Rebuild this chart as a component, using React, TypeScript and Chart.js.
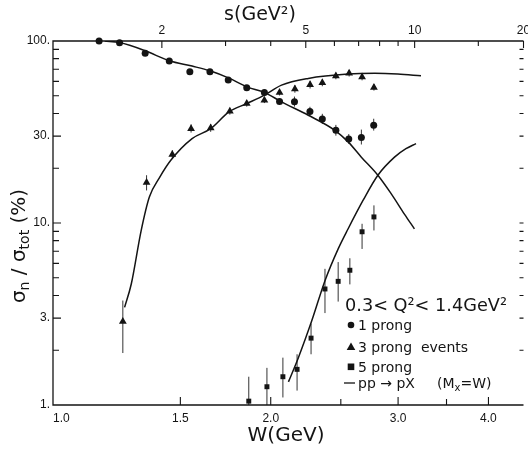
import React, { useEffect, useRef } from "react";
import { Chart, registerables } from "chart.js";
Chart.register(...registerables);

// ---------------- data ----------------
// 1 prong (circles)
const oneProngW = [1.158, 1.236, 1.341, 1.448, 1.546, 1.648, 1.747, 1.853, 1.96, 2.057, 2.157, 2.266, 2.357, 2.461, 2.564, 2.669, 2.776];
const oneProngV = [100, 97.9, 85.6, 77.6, 67.7, 67.7, 61.0, 55.3, 52.2, 46.5, 46.3, 41.0, 37.3, 32.3, 28.9, 29.5, 34.4];
const oneProngLo = [100, 96, 83.5, 75.5, 65.8, 65.8, 59.2, 53.6, 50.6, 44.8, 43.6, 38.8, 35.0, 30.2, 27.2, 27.0, 32.2];
const oneProngHi = [100, 99.5, 87.8, 79.8, 69.7, 69.7, 62.8, 57.0, 53.8, 48.3, 49.5, 43.5, 39.8, 34.6, 30.8, 32.6, 37.4];

// 3 prong events (triangles)
const threeProngW = [1.249, 1.347, 1.462, 1.552, 1.652, 1.756, 1.853, 1.96, 2.057, 2.16, 2.267, 2.357, 2.461, 2.567, 2.675, 2.778];
const threeProngV = [2.88, 16.7, 23.8, 33.0, 33.3, 41.1, 45.3, 47.3, 52.2, 54.5, 57.5, 58.9, 64.2, 66.4, 63.4, 55.6];
const threeProngLo = [1.93, 15.1, 22.6, 31.4, 31.7, 39.4, 43.6, 45.6, 50.2, 52.0, 54.8, 56.4, 61.6, 63.8, 60.8, 53.4];
const threeProngHi = [3.75, 18.3, 25.1, 34.8, 35.0, 42.9, 47.1, 49.1, 54.3, 57.2, 60.4, 61.6, 66.9, 69.2, 66.2, 58.0];

// 5 prong (squares)
const fiveProngW = [1.865, 1.976, 2.079, 2.175, 2.274, 2.377, 2.479, 2.573, 2.675, 2.778];
const fiveProngV = [1.05, 1.26, 1.43, 1.57, 2.33, 4.34, 4.78, 5.5, 8.95, 10.8];
const fiveProngLo = [1.0, 1.0, 1.1, 1.2, 1.9, 3.2, 3.7, 4.6, 7.2, 9.1];
const fiveProngHi = [1.43, 1.6, 1.82, 1.9, 2.8, 5.6, 6.1, 6.4, 9.9, 12.5];

// pp -> pX (Mx = W) curves
const ppOneW = [1.179, 1.236, 1.341, 1.448, 1.557, 1.648, 1.751, 1.853, 1.96, 2.07, 2.254, 2.453, 2.559, 2.669, 2.813, 2.934, 3.061, 3.16];
const ppOneV = [100, 98, 88.4, 77.9, 72.8, 68.6, 62.5, 56.0, 52.2, 46.3, 39.1, 32.3, 27.9, 23.0, 18.3, 14.5, 11.2, 9.29];
const ppThreeW = [1.256, 1.283, 1.324, 1.359, 1.403, 1.455, 1.557, 1.652, 1.751, 1.853, 1.96, 2.07, 2.254, 2.559, 2.786, 2.997, 3.227];
const ppThreeV = [3.44, 4.62, 9.09, 13.9, 17.7, 22.1, 29.1, 33.0, 40.8, 45.3, 50.4, 57.2, 62.3, 65.8, 66.4, 65.8, 64.4];
const ppFiveW = [2.116, 2.184, 2.279, 2.377, 2.479, 2.559, 2.683, 2.813, 2.966, 3.076, 3.176];
const ppFiveV = [1.34, 1.82, 2.9, 4.82, 7.21, 9.3, 13.3, 18.3, 23.0, 25.6, 27.3];

// axes
const W_MIN = 1.0;
const S_MAX = 20;
const Y_MIN = 1;
const Y_MAX = 100;
const xLabelValues = [1.0, 1.5, 2.0, 3.0, 4.0];
const xLabelTexts = ["1.0", "1.5", "2.0", "3.0", "4.0"];
const xTickValues = [1.5, 2.0, 2.5, 3.0, 3.5, 4.0];
const sLabelValues = [2, 5, 10, 20];
const sLabelTexts = ["2", "5", "10", "20"];
const sTickValues = [2, 3, 4, 5, 6, 7, 8, 9, 10, 15, 20];
const yLabelValues = [1, 3, 10, 30, 100];
const yLabelTexts = ["1.", "3.", "10.", "30.", "100."];
const yTickValues = [2, 3, 4, 5, 6, 7, 8, 9, 10, 20, 30, 40, 50, 60, 70, 80, 90];

const INK = "#141414";
const SANS = '"DejaVu Sans", sans-serif';
const TICKFONT = '"Liberation Sans", Arial, sans-serif';

const errorSets = [
  { w: oneProngW, lo: oneProngLo, hi: oneProngHi },
  { w: threeProngW, lo: threeProngLo, hi: threeProngHi },
  { w: fiveProngW, lo: fiveProngLo, hi: fiveProngHi },
];

const paperPlugin = {
  id: "paper",
  beforeDatasetsDraw(chart: any) {
    const { ctx } = chart;
    const x = chart.scales.x;
    const y = chart.scales.y;
    ctx.save();
    ctx.strokeStyle = "#333";
    ctx.lineWidth = 1;
    errorSets.forEach((set) => {
      set.w.forEach((w, i) => {
        const px = x.getPixelForValue(w);
        const y1 = y.getPixelForValue(set.lo[i]);
        const y2 = y.getPixelForValue(set.hi[i]);
        if (Math.abs(y1 - y2) < 1) return;
        ctx.beginPath();
        ctx.moveTo(px, y1);
        ctx.lineTo(px, y2);
        ctx.stroke();
      });
    });
    ctx.restore();
  },
  afterDraw(chart: any) {
    const { ctx } = chart;
    const { left, right, top, bottom } = chart.chartArea;
    const x = chart.scales.x;
    const x2 = chart.scales.x2;
    const y = chart.scales.y;
    ctx.save();
    ctx.strokeStyle = INK;
    ctx.fillStyle = INK;
    ctx.lineWidth = 1.3;
    // frame
    ctx.beginPath();
    ctx.moveTo(right, top);
    ctx.lineTo(left, top);
    ctx.lineTo(left, bottom);
    ctx.lineTo(right, bottom);
    ctx.stroke();

    ctx.lineWidth = 1.1;
    // bottom ticks
    xTickValues.forEach((v) => {
      const px = x.getPixelForValue(v);
      const len = xLabelValues.includes(v) ? 8 : 6;
      ctx.beginPath();
      ctx.moveTo(px, bottom);
      ctx.lineTo(px, bottom - len);
      ctx.stroke();
    });
    // top ticks
    sTickValues.forEach((v) => {
      const px = x2.getPixelForValue(v);
      const len = sLabelValues.includes(v) ? 7 : 5;
      ctx.beginPath();
      ctx.moveTo(px, top);
      ctx.lineTo(px, top + len);
      ctx.stroke();
    });
    // left + right ticks
    yTickValues.forEach((v) => {
      const py = y.getPixelForValue(v);
      const len = yLabelValues.includes(v) ? 8 : 6;
      ctx.beginPath();
      ctx.moveTo(left, py);
      ctx.lineTo(left + len, py);
      ctx.moveTo(right, py);
      ctx.lineTo(right - 4, py);
      ctx.stroke();
    });

    // tick labels
    ctx.font = `12px ${TICKFONT}`;
    ctx.textBaseline = "middle";
    xLabelValues.forEach((v, i) => {
      const px = x.getPixelForValue(v);
      ctx.textAlign = v === W_MIN ? "left" : "center";
      ctx.fillText(xLabelTexts[i], px, bottom + 14);
    });
    sLabelValues.forEach((v, i) => {
      const px = x2.getPixelForValue(v);
      ctx.textAlign = "center";
      ctx.fillText(sLabelTexts[i], px, top - 10);
    });
    ctx.textAlign = "right";
    yLabelValues.forEach((v, i) => {
      const py = y.getPixelForValue(v);
      ctx.fillText(yLabelTexts[i], left - 3, py);
    });

    // axis titles
    ctx.textBaseline = "alphabetic";
    ctx.textAlign = "center";
    ctx.font = `20px ${SANS}`;
    ctx.fillText("W(GeV)", 286, 441);
    ctx.font = `19px ${SANS}`;
    ctx.fillText("s(GeV²)", 260, 20);

    // y title with subscripts (rotated)
    ctx.save();
    ctx.translate(25, 246);
    ctx.rotate(-Math.PI / 2);
    const parts = [
      { t: "σ", s: 20, dy: 0 },
      { t: "n", s: 14, dy: 4 },
      { t: " / ", s: 20, dy: 0 },
      { t: "σ", s: 20, dy: 0 },
      { t: "tot", s: 14, dy: 4 },
      { t: " (%)", s: 20, dy: 0 },
    ];
    let total = 0;
    parts.forEach((p) => {
      ctx.font = `${p.s}px ${SANS}`;
      total += ctx.measureText(p.t).width;
    });
    let cx = -total / 2;
    ctx.textAlign = "left";
    parts.forEach((p) => {
      ctx.font = `${p.s}px ${SANS}`;
      ctx.fillText(p.t, cx, p.dy);
      cx += ctx.measureText(p.t).width;
    });
    ctx.restore();

    // legend block
    ctx.textAlign = "left";
    ctx.font = `18px ${SANS}`;
    ctx.fillText("0.3< Q²< 1.4GeV²", 345, 311, 162);
    ctx.font = `14px ${SANS}`;
    const mx = 351;
    const tx = 358;
    // circle
    ctx.beginPath();
    ctx.arc(mx, 325, 3.3, 0, Math.PI * 2);
    ctx.fill();
    ctx.fillText("1 prong", tx, 330);
    // triangle
    ctx.beginPath();
    ctx.moveTo(mx, 342.5);
    ctx.lineTo(mx + 4.3, 350);
    ctx.lineTo(mx - 4.3, 350);
    ctx.closePath();
    ctx.fill();
    ctx.fillText("3 prong  events", tx, 352);
    // square
    ctx.fillRect(mx - 3.3, 363.5, 6.6, 6.6);
    ctx.fillText("5 prong", tx, 372);
    // line
    ctx.lineWidth = 1.3;
    ctx.beginPath();
    ctx.moveTo(344, 383);
    ctx.lineTo(355, 383);
    ctx.stroke();
    ctx.fillText("pp → pX", tx, 388);
    ctx.fillText("(M", 437, 388);
    let w0 = 437 + ctx.measureText("(M").width;
    ctx.font = `10px ${SANS}`;
    ctx.fillText("x", w0, 391);
    w0 += ctx.measureText("x").width;
    ctx.font = `14px ${SANS}`;
    ctx.fillText("=W)", w0, 388);
    ctx.restore();
  },
};

function toXY(xs: number[], ys: number[]) {
  return xs.map((v, i) => ({ x: v, y: ys[i] }));
}

export default function App() {
  const ref = useRef<HTMLCanvasElement | null>(null);
  useEffect(() => {
    if (!ref.current) return;
    const lineDs = (xs: number[], ys: number[]) => ({
      type: "line" as const,
      data: toXY(xs, ys),
      borderColor: INK,
      borderWidth: 1.5,
      pointRadius: 0,
      fill: false,
      cubicInterpolationMode: "monotone" as const,
      xAxisID: "x",
      yAxisID: "y",
    });
    const markDs = (xs: number[], ys: number[], style: string, r: number) => ({
      type: "scatter" as const,
      data: toXY(xs, ys),
      pointStyle: style,
      pointRadius: r,
      pointBackgroundColor: INK,
      pointBorderColor: INK,
      pointBorderWidth: 0,
      showLine: false,
      clip: false,
      xAxisID: "x",
      yAxisID: "y",
    });
    const chart = new Chart(ref.current, {
      type: "scatter",
      data: {
        datasets: [
          lineDs(ppOneW, ppOneV),
          lineDs(ppThreeW, ppThreeV),
          lineDs(ppFiveW, ppFiveV),
          markDs(oneProngW, oneProngV, "circle", 3.5),
          markDs(threeProngW, threeProngV, "triangle", 4.5),
          markDs(fiveProngW, fiveProngV, "rect", 3.5),
        ] as any,
      },
      options: {
        animation: false,
        responsive: false,
        devicePixelRatio: 1,
        layout: { padding: { left: 0, right: 0, top: 0, bottom: 0 } },
        plugins: { legend: { display: false }, tooltip: { enabled: false } },
        scales: {
          x: {
            type: "logarithmic",
            position: "bottom",
            min: W_MIN,
            max: Math.sqrt(S_MAX),
            ticks: { display: false },
            grid: { display: false },
            border: { display: false },
            afterFit: (s: any) => {
              s.height = 47;
            },
          },
          x2: {
            type: "logarithmic",
            position: "top",
            min: W_MIN * W_MIN,
            max: S_MAX,
            ticks: { display: false },
            grid: { display: false },
            border: { display: false },
            afterFit: (s: any) => {
              s.height = 41;
            },
          },
          y: {
            type: "logarithmic",
            position: "left",
            min: Y_MIN,
            max: Y_MAX,
            ticks: { display: false },
            grid: { display: false },
            border: { display: false },
            afterFit: (s: any) => {
              s.width = 53;
            },
          },
        },
      } as any,
      plugins: [paperPlugin],
    });
    return () => chart.destroy();
  }, []);
  return (
    <div style={{ position: "absolute", left: 0, top: 0, width: 528, height: 452, background: "#fff" }}>
      <canvas ref={ref} width={528} height={452} />
    </div>
  );
}
